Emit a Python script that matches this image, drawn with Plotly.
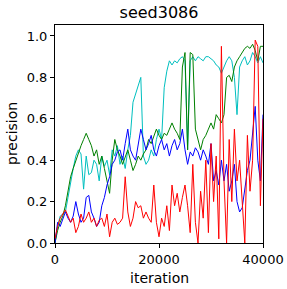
import plotly.graph_objects as go

iterations = list(range(0, 40001, 500))

red = [0.02, 0.08, 0.12, 0.14, 0.16, 0.13, 0.10, 0.12, 0.05, 0.08,
       0.14, 0.10, 0.12, 0.15, 0.10, 0.12, 0.08, 0.11, 0.12, 0.08,
       0.14, 0.03, 0.10, 0.12, 0.09, 0.10, 0.12, 0.32, 0.15, 0.08,
       0.12, 0.20, 0.17, 0.18, 0.12, 0.15, 0.12, 0.10, 0.28, 0.10,
       0.03, 0.12, 0.08, 0.18, 0.06, 0.28, 0.18, 0.24, 0.15, 0.22,
       0.28, 0.18, 0.05, 0.38, 0.10, 0.00, 0.25, 0.12, 0.40, 0.05,
       0.48, 0.20, 0.42, 0.02, 0.95, 0.30, 0.00, 0.50, 0.20, 0.55,
       0.30, 0.40, 0.20, 0.00, 0.52, 0.25, 0.40, 0.98, 0.95, 0.18,
       0.60]

blue = [0.00, 0.10, 0.08, 0.12, 0.15, 0.12, 0.10, 0.13, 0.20, 0.14,
        0.10, 0.12, 0.22, 0.23, 0.15, 0.12, 0.08, 0.10, 0.18, 0.22,
        0.28, 0.32, 0.38, 0.40, 0.44, 0.45, 0.40, 0.48, 0.55, 0.45,
        0.42, 0.40, 0.48, 0.55, 0.50, 0.45, 0.48, 0.52, 0.45, 0.42,
        0.47, 0.50, 0.45, 0.48, 0.42, 0.47, 0.50, 0.45, 0.48, 0.55,
        0.45, 0.38, 0.44, 0.42, 0.46, 0.44, 0.40, 0.45, 0.42, 0.38,
        0.48, 0.30, 0.35, 0.28, 0.40, 0.30, 0.38, 0.25, 0.30, 0.38,
        0.20, 0.15, 0.17, 0.25, 0.35, 0.40, 0.55, 0.66, 0.40, 0.30,
        0.62]

green = [0.00, 0.06, 0.10, 0.13, 0.18, 0.25, 0.32, 0.36, 0.40, 0.44,
         0.47, 0.50, 0.53, 0.50, 0.47, 0.42, 0.45, 0.38, 0.42, 0.36,
         0.30, 0.24, 0.40, 0.50, 0.45, 0.42, 0.38, 0.42, 0.45, 0.40,
         0.35, 0.38, 0.42, 0.40, 0.43, 0.45, 0.50, 0.48, 0.52, 0.55,
         0.52, 0.50, 0.53, 0.52, 0.55, 0.58, 0.55, 0.53, 0.50, 0.85,
         0.92, 0.45, 0.92, 0.91, 0.55, 0.50, 0.45, 0.50, 0.52, 0.55,
         0.58, 0.55, 0.62, 0.60, 0.58, 0.62, 0.80, 0.81, 0.78, 0.85,
         0.88, 0.90, 0.92, 0.94, 0.95, 0.94, 0.96, 0.93, 0.88, 0.95,
         0.95]

cyan = [0.00, 0.08, 0.13, 0.14, 0.15, 0.22, 0.30, 0.36, 0.42, 0.45,
        0.43, 0.26, 0.42, 0.33, 0.34, 0.40, 0.38, 0.30, 0.42, 0.37,
        0.40, 0.33, 0.45, 0.42, 0.47, 0.38, 0.42, 0.36, 0.45, 0.52,
        0.68, 0.72, 0.75, 0.80, 0.42, 0.38, 0.40, 0.45, 0.42, 0.50,
        0.55, 0.50, 0.75, 0.83, 0.88, 0.86, 0.88, 0.87, 0.89, 0.90,
        0.88, 0.45, 0.88, 0.90, 0.88, 0.90, 0.89, 0.88, 0.90, 0.90,
        0.89, 0.88, 0.86, 0.85, 0.82, 0.85, 0.88, 0.90, 0.88, 0.80,
        0.62, 0.85, 0.88, 0.90, 0.86, 0.88, 0.92, 0.90, 0.87, 0.90,
        0.87]

x_ticks = [0, 20000, 40000]
y_ticks = [0.0, 0.2, 0.4, 0.6, 0.8, 1.0]

series = [("cyan", cyan, "#00bfbf"), ("green", green, "#008000"),
          ("blue", blue, "#0000ff"), ("red", red, "#ff0000")]

fig = go.Figure()
for name, vals, col in series:
    fig.add_trace(go.Scatter(x=iterations, y=vals, mode="lines", name=name,
                             line=dict(color=col, width=1)))

font = "DejaVu Sans"
axis_common = dict(showgrid=False, zeroline=False, showline=True, linecolor="black",
                   linewidth=1, mirror=True, ticks="outside", ticklen=4,
                   tickcolor="black", automargin=False,
                   tickfont=dict(family=font, size=13, color="black"))

fig.update_layout(
    width=287, height=289,
    margin=dict(l=55, r=24, t=25, b=46, autoexpand=False),
    paper_bgcolor="white", plot_bgcolor="white",
    showlegend=False,
    xaxis=dict(range=[0, 40000], tickvals=x_ticks, ticktext=[str(v) for v in x_ticks],
               **axis_common),
    yaxis=dict(range=[0, 1.053], tickvals=y_ticks, ticktext=[f"{v:.1f}" for v in y_ticks],
               **axis_common),
    title=dict(text="seed3086", x=0.5, xref="paper", xanchor="center",
               y=1 - 12 / 289, yref="container", yanchor="middle", automargin=False,
               font=dict(family=font, size=16, color="black")),
    annotations=[
        dict(text="iteration", xref="paper", yref="paper", x=0.5, y=-35 / 218,
             xanchor="center", yanchor="middle", showarrow=False,
             font=dict(family=font, size=14, color="black")),
        dict(text="precision", xref="paper", yref="paper", x=-43 / 208, y=0.5,
             xanchor="center", yanchor="middle", textangle=-90, showarrow=False,
             font=dict(family=font, size=14, color="black")),
    ],
)

fig.write_html("out.html", config={"displayModeBar": False},
               post_script="document.body.style.margin='0';document.body.style.overflow='hidden';")
